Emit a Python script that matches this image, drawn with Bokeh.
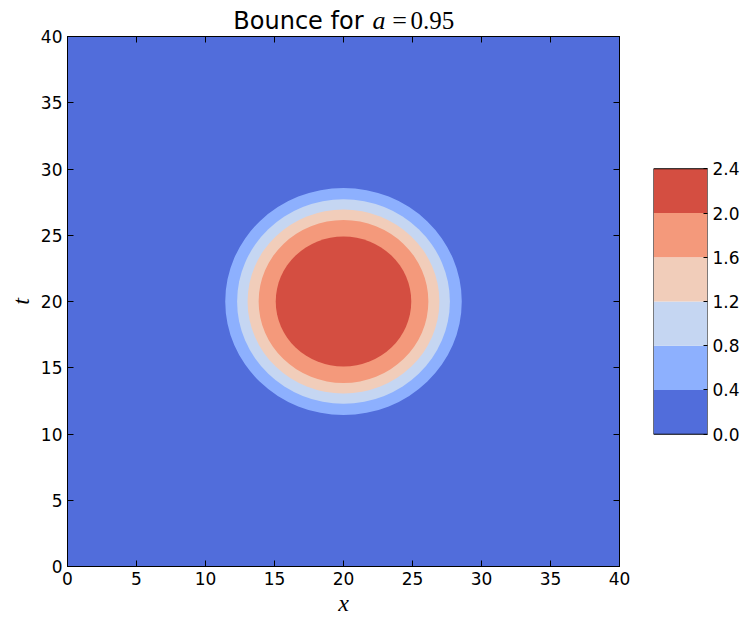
from bokeh.plotting import figure
from bokeh.layouts import row, column
from bokeh.models import LinearAxis, FixedTicker, Label, PrintfTickFormatter, Range1d
from bokeh.embed import file_html
from bokeh.resources import INLINE

# ---- data ----
title_prefix = "Bounce for"
a_value = "0.95"
center_x = 20.0
center_t = 20.0
levels = [0.0, 0.4, 0.8, 1.2, 1.6, 2.0, 2.4]
level_colors = ["#516ddb", "#8db0fe", "#c5d6f2", "#f1cdba", "#f4997b", "#d44e41"]
# radius (in x / t units) of the contour where the field reaches each level
contour_levels = [0.4, 0.8, 1.2, 1.6, 2.0]
contour_radii = [8.57, 7.71, 6.95, 6.15, 4.91]
x_ticks = [0, 5, 10, 15, 20, 25, 30, 35, 40]
t_ticks = [0, 5, 10, 15, 20, 25, 30, 35, 40]
cb_ticks = [0.0, 0.4, 0.8, 1.2, 1.6, 2.0, 2.4]

TICK_FONT = "DejaVu Sans"
MATH_FONT = "Liberation Serif"

# ---- layout constants (pixels) ----
TITLE_H = 29          # height of the title strip
TOP = 36 - TITLE_H    # border above the plot frame inside the lower block
LEFT, RIGHT, BOTTOM = 67, 21, 49
MAIN_W = 640
MAIN_H = 618 - TITLE_H
FRAME_W = MAIN_W - LEFT - RIGHT
CB_TOP_PX, CB_BOTTOM_PX = 169 - TITLE_H, 436 - TITLE_H   # rows within the lower block

# ---- title strip (its own small figure, pixel ranges) ----
tf = figure(width=MAIN_W, height=TITLE_H, x_range=Range1d(0, FRAME_W), y_range=Range1d(0, TITLE_H),
            output_backend="svg", toolbar_location=None, x_axis_location=None, y_axis_location=None,
            min_border_left=LEFT, min_border_right=RIGHT, min_border_top=0, min_border_bottom=0)
tf.title = None
tf.outline_line_color = None
tf.grid.visible = False
tf.background_fill_color = "white"
tf.border_fill_color = "white"
base_y = 9
tf.add_layout(Label(x=296, y=base_y, text=title_prefix,
                    text_font=TICK_FONT, text_font_size="24px", text_color="black",
                    text_align="right", text_baseline="alphabetic"))
tf.add_layout(Label(x=305, y=base_y, text="a",
                    text_font=MATH_FONT, text_font_style="italic", text_font_size="26px",
                    text_color="black", text_align="left", text_baseline="alphabetic"))
tf.add_layout(Label(x=332, y=base_y, text="=",
                    text_font=MATH_FONT, text_font_size="26px", text_color="black",
                    text_align="center", text_baseline="alphabetic"))
tf.add_layout(Label(x=343, y=base_y, text=a_value,
                    text_font=MATH_FONT, text_font_size="25px", text_color="black",
                    text_align="left", text_baseline="alphabetic"))

# ---- main figure ----
p = figure(width=MAIN_W, height=MAIN_H, x_range=Range1d(0, 40), y_range=Range1d(0, 40),
           output_backend="svg", toolbar_location=None,
           min_border_left=LEFT, min_border_right=RIGHT, min_border_top=TOP, min_border_bottom=BOTTOM)
p.title = None
p.background_fill_color = level_colors[0]
p.border_fill_color = "white"
p.outline_line_color = "black"
p.outline_line_width = 1
p.grid.visible = False

n = len(contour_radii)
p.ellipse(x=[center_x] * n, y=[center_t] * n,
          width=[2 * r for r in contour_radii], height=[2 * r for r in contour_radii],
          fill_color=level_colors[1:], line_color=None)

def style_axis(ax, labels=True):
    ax.axis_line_color = "black"
    ax.major_tick_in = 6
    ax.major_tick_out = 0
    ax.minor_tick_line_color = None
    ax.major_tick_line_color = "black"
    ax.major_label_text_font = TICK_FONT
    ax.major_label_text_font_size = "17px"
    ax.major_label_text_color = "black"
    ax.major_label_standoff = 5
    if not labels:
        ax.major_label_text_font_size = "0px"
        ax.major_label_text_alpha = 0

p.xaxis.ticker = FixedTicker(ticks=x_ticks)
p.yaxis.ticker = FixedTicker(ticks=t_ticks)
for ax in p.xaxis + p.yaxis:
    style_axis(ax)
p.xaxis.axis_label = "x"
p.yaxis.axis_label = "t"
for ax in p.xaxis + p.yaxis:
    ax.axis_label_text_font = MATH_FONT
    ax.axis_label_text_font_style = "italic"
    ax.axis_label_text_font_size = "24px"
    ax.axis_label_text_color = "black"
p.xaxis.axis_label_standoff = 2
p.yaxis.axis_label_standoff = 4

top_ax = LinearAxis(ticker=FixedTicker(ticks=x_ticks))
style_axis(top_ax, labels=False)
p.add_layout(top_ax, "above")
right_ax = LinearAxis(ticker=FixedTicker(ticks=t_ticks))
style_axis(right_ax, labels=False)
p.add_layout(right_ax, "right")

# ---- colorbar figure (same frame height as main, so the row aligns) ----
vmin, vmax = levels[0], levels[-1]
per_px = (vmax - vmin) / (CB_BOTTOM_PX - CB_TOP_PX)
cb_lo = vmin - (MAIN_H - BOTTOM - CB_BOTTOM_PX) * per_px
cb_hi = vmax + (CB_TOP_PX - TOP) * per_px
cb = figure(width=742 - MAIN_W, height=MAIN_H, x_range=Range1d(0, 1), y_range=Range1d(cb_lo, cb_hi),
            output_backend="svg", toolbar_location=None,
            x_axis_location=None, y_axis_location="right",
            min_border_left=13, min_border_right=35, min_border_top=TOP, min_border_bottom=BOTTOM)
cb.title = None
cb.grid.visible = False
cb.outline_line_color = None
cb.border_fill_color = "white"
cb.background_fill_color = "white"
cb.quad(left=[0] * len(level_colors), right=[1] * len(level_colors),
        bottom=levels[:-1], top=levels[1:], fill_color=level_colors, line_color=None)
cb.quad(left=[0], right=[1], bottom=[vmin], top=[vmax], fill_color=None,
        line_color="black", line_width=1)
cax = cb.yaxis[0]
cax.ticker = FixedTicker(ticks=cb_ticks)
cax.formatter = PrintfTickFormatter(format="%.1f")
style_axis(cax)
cax.axis_line_color = None
cax.major_tick_in = 4

layout = column(tf, row(p, cb, spacing=0), spacing=0)
open("out.html", "w").write(file_html(layout, INLINE))
